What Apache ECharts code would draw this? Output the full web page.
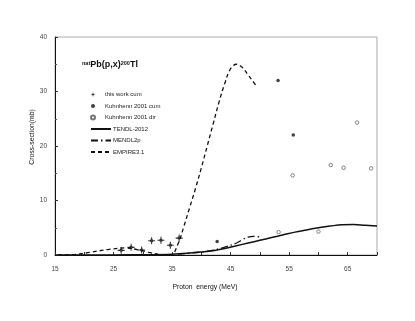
<!DOCTYPE html>
<html>
<head>
<meta charset="utf-8">
<script src="https://cdn.jsdelivr.net/npm/echarts@6/dist/echarts.min.js"></script>
<style>
  html, body { margin: 0; padding: 0; background: #fff; }
  #chart { width: 415px; height: 321px; }
</style>
</head>
<body>
<div id="chart"></div>
<script>
// measured points [MeV, mb]
var thisWorkCum = [[26.3, 0.85], [28.0, 1.4], [29.8, 0.9], [31.5, 2.6], [33.1, 2.7], [34.7, 1.8], [36.2, 3.1]];
var kuhnCum = [[42.7, 2.5], [53.1, 32.0], [55.7, 22.0]];
var kuhnDir = [[53.2, 4.2], [55.6, 14.6], [60.0, 4.3], [62.1, 16.5], [64.3, 16.0], [66.6, 24.3], [69.0, 15.9]];

// model curves
var tendl = [[15, 0], [20, 0], [25, 0.02], [30, 0.05], [35, 0.15], [38, 0.35], [40, 0.55], [42, 0.8], [44, 1.2],
  [46, 1.7], [48, 2.2], [50, 2.7], [52, 3.2], [54, 3.7], [56, 4.2], [58, 4.6], [60, 5.0], [62, 5.3], [64, 5.55],
  [66, 5.6], [68, 5.45], [70, 5.3]];
var mendl = [[36, 0.15], [38, 0.35], [40, 0.55], [42, 0.9], [44, 1.45], [46, 2.2], [47, 2.8], [48, 3.3], [49, 3.4], [50.3, 3.3]];
var empire = [[15.5, 0], [18, 0.05], [21, 0.5], [24, 1.0], [27, 1.3], [29, 1.0], [31, 0.5], [33, 0.1], [34.8, 0.05],
  [36, 2.0], [37, 5.2], [38, 8.7], [39, 12.2], [40, 16.0], [41, 20.0], [42, 24.0], [43, 28.0], [44, 31.5],
  [45, 34.2], [46, 35.0], [47, 34.4], [48, 33.0], [49, 31.6], [49.6, 30.8]];

var xTicks = [15, 25, 35, 45, 55, 65];

var chart = echarts.init(document.getElementById('chart'));

// dot with small error bars (all subpaths clockwise so nothing cancels)
var errSym = 'path://M-10,-1.5 h20 v3 h-20 z M-1.5,-10 h3 v20 h-3 z M5,0 A5,5 0 1,1 -5,0 A5,5 0 1,1 5,0 z';

var legText = { fontSize: 6, color: '#222', lineHeight: 8, padding: [0, 0, 0, -3] };

option = {
  animation: false,
  backgroundColor: '#fff',
  textStyle: { fontFamily: 'Liberation Sans, Arial, sans-serif' },
  title: {
    left: 77,
    top: 55,
    text: '{sup|nat}{main|Pb(p,x)}{sup|200}{main|Tl}',
    textStyle: {
      rich: {
        main: { fontSize: 9, color: '#111', fontFamily: 'Liberation Sans', lineHeight: 9, verticalAlign: 'bottom' },
        sup: { fontSize: 5.5, color: '#111', fontFamily: 'Liberation Sans', lineHeight: 9, verticalAlign: 'top' }
      }
    }
  },
  legend: [{
    orient: 'vertical',
    left: 85,
    top: 85.5,
    itemWidth: 20,
    itemHeight: 4,
    itemGap: 3.5,
    textStyle: legText,
    data: ['this work cum', 'Kuhnhenn 2001 cum', 'Kuhnhenn 2001 dir']
  }, {
    orient: 'vertical',
    left: 85,
    top: 120,
    itemWidth: 20,
    itemHeight: 8,
    itemGap: 3.5,
    textStyle: legText,
    data: [
      { name: 'TENDL-2012', itemStyle: { opacity: 0 } },
      { name: 'MENDL2p', itemStyle: { opacity: 0 } },
      { name: 'EMPIRE3.1', itemStyle: { opacity: 0 } }
    ]
  }],
  grid: {
    left: 55, right: 38, top: 37, bottom: 66,
    show: true, borderColor: '#aaa', borderWidth: 1
  },
  xAxis: {
    type: 'value',
    min: 15, max: 70, interval: 5,
    name: 'Proton  energy (MeV)',
    nameLocation: 'middle',
    nameGap: 29,
    nameMoveOverlap: false,
    nameTextStyle: { fontSize: 6.8, color: '#111', padding: [0, 22, 0, 0] },
    axisLine: { lineStyle: { color: '#111', width: 1 } },
    axisTick: { inside: true, length: 3, lineStyle: { color: '#333' } },
    axisLabel: {
      fontSize: 6.5, color: '#444', margin: 11,
      formatter: function (v) { return xTicks.indexOf(v) >= 0 ? String(v) : ''; }
    },
    splitLine: { show: false }
  },
  yAxis: {
    type: 'value',
    min: 0, max: 40, interval: 10,
    name: 'Cross-section(mb)',
    nameLocation: 'middle',
    nameGap: 19,
    nameMoveOverlap: false,
    nameTextStyle: { fontSize: 6.8, color: '#111', padding: [0, 0, 0, 18] },
    axisLine: { show: true, lineStyle: { color: '#111', width: 1 } },
    axisTick: { show: true, inside: true, length: 3, lineStyle: { color: '#333' } },
    minorTick: { show: true, splitNumber: 2, length: 2, lineStyle: { color: '#555' } },
    axisLabel: { fontSize: 6.5, color: '#444', margin: 8 },
    splitLine: { show: false }
  },
  series: [
    {
      name: 'this work cum', type: 'scatter', data: thisWorkCum,
      symbol: errSym, symbolSize: [7, 7],
      itemStyle: { color: '#000' }, z: 5
    },
    {
      name: 'Kuhnhenn 2001 cum', type: 'scatter', data: kuhnCum,
      symbol: 'circle', symbolSize: 3.5,
      itemStyle: { color: '#111' }, z: 5
    },
    {
      name: 'Kuhnhenn 2001 dir', type: 'scatter', data: kuhnDir,
      symbol: 'circle', symbolSize: 3.5,
      itemStyle: { color: '#fff', borderColor: '#555', borderWidth: 0.9 }, z: 5
    },
    {
      name: 'TENDL-2012', type: 'line', data: tendl, smooth: 0.4,
      symbol: 'none', lineStyle: { color: '#111', width: 1.5, type: 'solid' },
      itemStyle: { color: '#111' }
    },
    {
      name: 'MENDL2p', type: 'line', data: mendl, smooth: 0.4,
      symbol: 'none', lineStyle: { color: '#111', width: 1.3, type: [7, 3, 1.5, 3] },
      itemStyle: { color: '#111' }
    },
    {
      name: 'EMPIRE3.1', type: 'line', data: empire, smooth: 0.4,
      symbol: 'none', lineStyle: { color: '#111', width: 1.3, type: [4, 3] },
      itemStyle: { color: '#111' }
    }
  ]
};
chart.setOption(option);
</script>
</body>
</html>
